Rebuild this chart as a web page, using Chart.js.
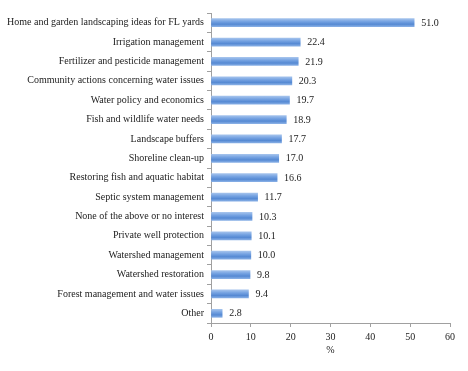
<!DOCTYPE html>
<html>
<head>
<meta charset="utf-8">
<script src="https://cdn.jsdelivr.net/npm/chart.js@4/dist/chart.umd.min.js"></script>
<style>
html,body{margin:0;padding:0;background:#fff;}
#wrap{width:468px;height:371px;position:relative;}
</style>
</head>
<body>
<div id="wrap"><canvas id="c" width="468" height="371"></canvas></div>
<script>
const categories = [
  "Home and garden landscaping ideas for FL yards",
  "Irrigation management",
  "Fertilizer and pesticide management",
  "Community actions concerning water issues",
  "Water policy and economics",
  "Fish and wildlife water needs",
  "Landscape buffers",
  "Shoreline clean-up",
  "Restoring fish and aquatic habitat",
  "Septic system management",
  "None of the above or no interest",
  "Private well protection",
  "Watershed management",
  "Watershed restoration",
  "Forest management and water issues",
  "Other"
];
const percentValues = [51.0, 22.4, 21.9, 20.3, 19.7, 18.9, 17.7, 17.0, 16.6, 11.7, 10.3, 10.1, 10.0, 9.8, 9.4, 2.8];
const xTicks = [0, 10, 20, 30, 40, 50, 60];
const xTitle = "%";

const FONT = "'Liberation Serif', 'Times New Roman', serif";
const FS = 10;

function barGradient(ctx) {
  const chart = ctx.chart;
  const ys = chart.scales && chart.scales.y;
  if (!ys || ctx.dataIndex === undefined) return '#5b8fd6';
  const yc = ys.getPixelForValue(ctx.dataIndex);
  if (!isFinite(yc)) return '#5b8fd6';
  const h = 8;
  const g = chart.ctx.createLinearGradient(0, yc - h / 2, 0, yc + h / 2);
  g.addColorStop(0, '#a3c2ec');
  g.addColorStop(0.35, '#76a3e2');
  g.addColorStop(0.7, '#5589d3');
  g.addColorStop(1, '#86aee5');
  return g;
}

const valueLabels = {
  id: 'valueLabels',
  afterDatasetsDraw(chart) {
    const ctx = chart.ctx;
    const meta = chart.getDatasetMeta(0);
    ctx.save();
    ctx.font = FS + "px " + FONT;
    ctx.fillStyle = '#222';
    ctx.textBaseline = 'middle';
    ctx.textAlign = 'left';
    meta.data.forEach((bar, i) => {
      ctx.fillText(percentValues[i].toFixed(1), bar.x + 7, bar.y + 0.5);
    });
    ctx.restore();
  }
};

new Chart(document.getElementById('c'), {
  type: 'bar',
  data: {
    labels: categories,
    datasets: [{
      data: percentValues,
      backgroundColor: barGradient,
      borderWidth: 0,
      barThickness: 8
    }]
  },
  options: {
    indexAxis: 'y',
    responsive: false,
    animation: false,
    devicePixelRatio: 1,
    layout: { padding: { top: 13, right: 18, left: 0, bottom: 15 } },
    plugins: { legend: { display: false }, tooltip: { enabled: false } },
    scales: {
      x: {
        min: 0, max: 60,
        afterBuildTicks(scale) { scale.ticks = xTicks.map(v => ({ value: v })); },
        afterFit(scale) { scale.height = 33; },
        border: { display: true, color: '#a0a0a0', width: 1 },
        grid: { drawOnChartArea: false, drawTicks: true, tickLength: 4, color: '#a0a0a0' },
        ticks: { font: { family: FONT, size: FS }, color: '#222', padding: 4, maxRotation: 0 },
        title: { display: true, text: xTitle, font: { family: FONT, size: FS }, color: '#222', padding: { top: 0, bottom: 0 } }
      },
      y: {
        afterFit(scale) { scale.width = 211; },
        border: { display: true, color: '#a0a0a0', width: 1 },
        grid: { drawOnChartArea: false, drawTicks: true, tickLength: 4, color: '#a0a0a0', offset: true },
        ticks: { font: { family: FONT, size: FS }, color: '#222', padding: 3, autoSkip: false }
      }
    }
  },
  plugins: [valueLabels]
});
</script>
</body>
</html>
